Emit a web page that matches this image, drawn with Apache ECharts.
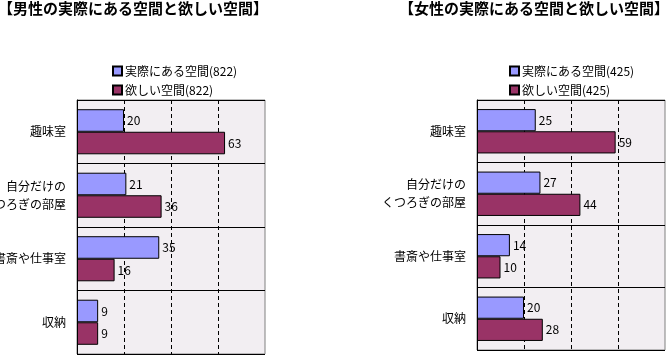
<!DOCTYPE html>
<html><head><meta charset="utf-8">
<script src="https://cdn.jsdelivr.net/npm/echarts@6/dist/echarts.min.js"></script>
<style>html,body{margin:0;padding:0;background:#fff}#c{width:668px;height:356px}</style>
</head><body><div id="c"></div>
<script>
const categories = ['趣味室', '自分だけの\nくつろぎの部屋', '書斎や仕事室', '収納'];
const maleActual = [20, 21, 35, 9];
const maleWanted = [63, 36, 16, 9];
const femaleActual = [25, 27, 14, 20];
const femaleWanted = [59, 44, 10, 28];
const maleTitle = '【男性の実際にある空間と欲しい空間】';
const femaleTitle = '【女性の実際にある空間と欲しい空間】';
const maleNames = ['実際にある空間(822)', '欲しい空間(822)'];
const femaleNames = ['実際にある空間(425)', '欲しい空間(425)'];

const FONT = '"Noto Sans CJK JP", sans-serif';
const BLUE = '#9999FF', MAROON = '#993366';
const chart = echarts.init(document.getElementById('c'));

function xAx(gi) {
  return { type: 'value', gridIndex: gi, min: 0, max: 80, interval: 20,
    axisLabel: { show: false }, axisLine: { show: false }, axisTick: { show: false },
    splitLine: { show: true, showMinLine: false, showMaxLine: false,
      lineStyle: { color: '#000', type: [4, 3], width: 1 } } };
}
function yAx(gi) {
  return { type: 'category', gridIndex: gi, data: categories, inverse: true, z: 20,
    axisLine: { show: true, lineStyle: { color: '#000', width: 1 } },
    axisTick: { show: false },
    axisLabel: { color: '#000', fontSize: 12, fontFamily: FONT, lineHeight: 18, margin: 11 },
    splitLine: { show: true, lineStyle: { color: '#000', width: 1 } } };
}
function ser(name, data, color, gi) {
  return { type: 'bar', name: name, data: data, xAxisIndex: gi, yAxisIndex: gi,
    barGap: '0%', barCategoryGap: '29%',
    itemStyle: { color: color, borderColor: '#000', borderWidth: 1 },
    label: { show: true, position: 'right', distance: 3, color: '#000', fontSize: 12, fontFamily: FONT } };
}
const gridCommon = { show: true, backgroundColor: '#F2EEF2', borderColor: '#808080', borderWidth: 1, containLabel: false, outerBoundsMode: 'none' };
const legendCommon = { orient: 'vertical', top: 65, itemWidth: 9, itemHeight: 9, itemGap: 7, padding: 0,
  icon: 'rect', textStyle: { fontSize: 12, color: '#000', fontFamily: FONT, padding: [0, 0, 0, -2] } };
chart.setOption({
  animation: false,
  textStyle: { fontFamily: FONT },
  title: [
    { text: maleTitle, left: -2, top: 1, padding: 0, textStyle: { fontSize: 15, fontWeight: 'bold', color: '#000', fontFamily: FONT } },
    { text: femaleTitle, right: -1, top: 1, padding: 0, textStyle: { fontSize: 15, fontWeight: 'bold', color: '#000', fontFamily: FONT } }
  ],
  legend: [
    Object.assign({ data: maleNames, left: 112 }, legendCommon),
    Object.assign({ data: femaleNames, left: 509 }, legendCommon)
  ],
  grid: [
    Object.assign({ left: 77, top: 100, width: 188, height: 254 }, gridCommon),
    Object.assign({ left: 477, top: 100, width: 188, height: 250 }, gridCommon)
  ],
  xAxis: [xAx(0), xAx(1)],
  yAxis: [yAx(0), yAx(1)],
  series: [
    ser(maleNames[0], maleActual, BLUE, 0),
    ser(maleNames[1], maleWanted, MAROON, 0),
    ser(femaleNames[0], femaleActual, BLUE, 1),
    ser(femaleNames[1], femaleWanted, MAROON, 1)
  ]
});
</script></body></html>
